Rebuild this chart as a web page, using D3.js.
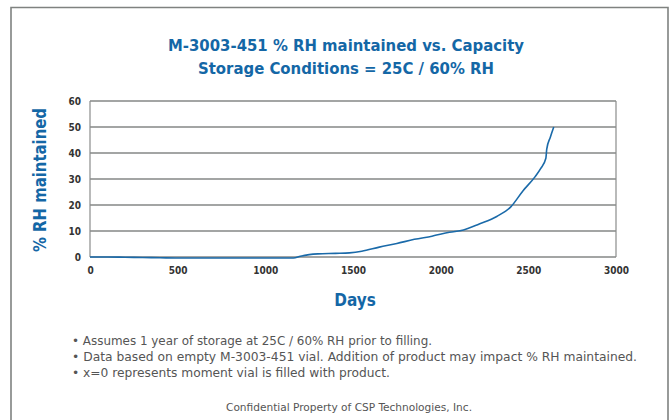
<!DOCTYPE html>
<html>
<head>
<meta charset="utf-8">
<script src="https://cdn.jsdelivr.net/npm/d3@7"></script>
<style>
  body { margin: 0; background: #fff; }
  svg { display: block; }
</style>
</head>
<body>
<div id="chart"></div>
<script>
// Days since filling vs. % RH maintained
const days = [0, 100, 200, 300, 400, 500, 700, 900, 1100, 1160, 1200, 1250, 1300, 1400, 1480,
    1550, 1650, 1750, 1850, 1950, 2050, 2130, 2220, 2320, 2400, 2470, 2540, 2570, 2600, 2605, 2625, 2645];
const rhValues = [0, 0, -0.1, -0.2, -0.3, -0.4, -0.4, -0.4, -0.4, -0.4, 0.3, 0.9, 1.2, 1.4, 1.6,
    2.2, 3.8, 5.2, 6.8, 8.0, 9.5, 10.4, 12.7, 15.6, 19.3, 25.5, 31.0, 34.0, 38.0, 41.5, 46, 50];
const xTicks = [0, 500, 1000, 1500, 2000, 2500, 3000];
const yTicks = [0, 10, 20, 30, 40, 50, 60];
const titleLines = ['M-3003-451 % RH maintained vs. Capacity', 'Storage Conditions = 25C / 60% RH'];
const notes = [
    '• Assumes 1 year of storage at 25C / 60% RH prior to filling.',
    '• Data based on empty M-3003-451 vial. Addition of product may impact % RH maintained.',
    '• x=0 represents moment vial is filled with product.'
];
const footer = 'Confidential Property of CSP Technologies, Inc.';

const W = 670, H = 420;
const margin = { top: 101, right: 54, bottom: 163, left: 90 };
const width = W - margin.left - margin.right;
const height = H - margin.top - margin.bottom;
const BLUE = '#1467a6';
const FONT = '"DejaVu Sans Condensed", "DejaVu Sans", sans-serif';

const svg = d3.select('#chart').append('svg')
    .attr('width', W)
    .attr('height', H);

// outer frame (bottom edge runs off the picture)
svg.append('path')
    .attr('d', 'M11,430 V7.5 H668 V430')
    .attr('fill', 'none')
    .attr('stroke', '#7f8280')
    .attr('stroke-width', 1.6);

// Titles
titleLines.forEach((t, i) => {
    svg.append('text')
        .attr('x', 346)
        .attr('y', 51 + i * 23)
        .attr('text-anchor', 'middle')
        .attr('font-family', FONT)
        .attr('font-weight', 'bold')
        .attr('font-size', 16)
        .attr('fill', BLUE)
        .attr('textLength', i === 0 ? 356 : 296)
        .attr('lengthAdjust', 'spacingAndGlyphs')
        .text(t);
});

const g = svg.append('g')
    .attr('transform', `translate(${margin.left},${margin.top})`);

var x = d3.scaleLinear().domain([0, 3000]).range([0, width]);
var y = d3.scaleLinear().domain([0, 60]).range([height, 0]);

// gridlines
g.append('g')
    .selectAll('line')
    .data(yTicks)
    .enter()
    .append('line')
    .attr('x1', 0)
    .attr('x2', width)
    .attr('y1', (d) => y(d))
    .attr('y2', (d) => y(d))
    .attr('stroke', '#a3a5a4')
    .attr('stroke-width', 1.8);

// side edges of the plot area
[0, width].forEach((xx) => {
    g.append('line')
        .attr('x1', xx).attr('x2', xx)
        .attr('y1', 0).attr('y2', height)
        .attr('stroke', '#8a8c8b')
        .attr('stroke-width', 1.2);
});

// axes (labels only)
let xAxis = g.append('g')
    .attr('transform', `translate(0, ${height})`)
    .call(d3.axisBottom(x).tickValues(xTicks).tickFormat(d3.format('d')).tickSize(0).tickPadding(10));
let yAxis = g.append('g')
    .call(d3.axisLeft(y).tickValues(yTicks).tickFormat(d3.format('d')).tickSize(0).tickPadding(9));
[xAxis, yAxis].forEach((a) => {
    a.select('.domain').remove();
    a.selectAll('text')
        .attr('font-family', FONT)
        .attr('font-weight', 'bold')
        .attr('font-size', 10)
        .attr('fill', '#333');
});

// curve
const pts = days.map((d, i) => [d, rhValues[i]]);
g.append('path')
    .datum(pts)
    .attr('fill', 'none')
    .attr('stroke', '#1a6aa9')
    .attr('stroke-width', 1.6)
    .attr('d', d3.line()
        .x((d) => x(d[0]))
        .y((d) => y(d[1]))
        .curve(d3.curveMonotoneX));

// axis titles
svg.append('text')
    .attr('transform', 'translate(46, 180) rotate(-90)')
    .attr('text-anchor', 'middle')
    .attr('font-family', FONT)
    .attr('font-weight', 'bold')
    .attr('font-size', 17)
    .attr('fill', BLUE)
    .attr('textLength', 144)
    .attr('lengthAdjust', 'spacingAndGlyphs')
    .text('% RH maintained');

svg.append('text')
    .attr('x', 355)
    .attr('y', 306)
    .attr('text-anchor', 'middle')
    .attr('font-family', FONT)
    .attr('font-weight', 'bold')
    .attr('font-size', 17)
    .attr('fill', BLUE)
    .text('Days');

// notes
notes.forEach((t, i) => {
    svg.append('text')
        .attr('x', 72)
        .attr('y', 345 + i * 16)
        .attr('font-family', FONT)
        .attr('font-size', 12)
        .attr('fill', '#555')
        .attr('textLength', [360, 565, 318][i])
        .attr('lengthAdjust', 'spacingAndGlyphs')
        .text(t);
});

svg.append('text')
    .attr('x', 349)
    .attr('y', 411)
    .attr('text-anchor', 'middle')
    .attr('font-family', FONT)
    .attr('font-size', 10.5)
    .attr('fill', '#555')
    .attr('textLength', 246)
    .attr('lengthAdjust', 'spacingAndGlyphs')
    .text(footer);
</script>
</body>
</html>
